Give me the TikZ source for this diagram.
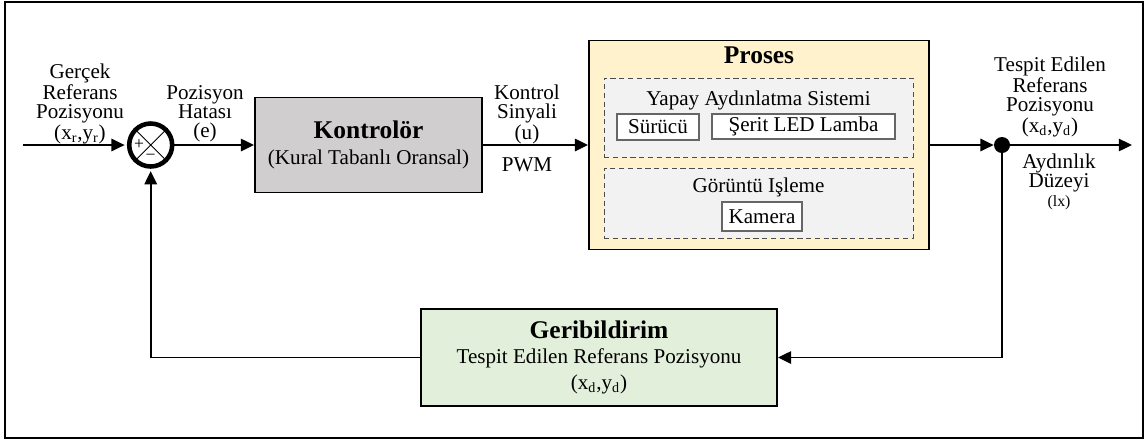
\documentclass[tikz,border=0pt]{standalone}
\usepackage{fontspec}
\setmainfont{Liberation Serif}
\usetikzlibrary{positioning,arrows.meta}

\definecolor{ctrlGray}{RGB}{208,206,206}
\definecolor{plantGold}{RGB}{255,242,204}
\definecolor{subGray}{RGB}{242,242,242}
\definecolor{fbGreen}{RGB}{226,239,218}

\begin{document}
\begin{tikzpicture}[x=0.02cm, y=-0.02cm, font=\fontsize{12}{10.8}\selectfont]
\tikzset{
    lbl/.style={align=center, inner sep=0pt},
    ttl/.style={font=\fontsize{14.5}{15}\selectfont\bfseries, inner sep=0pt},
    ctrlBox/.style={rectangle, draw=black, line width=1.1pt, fill=ctrlGray, align=center, minimum width=4.54cm, minimum height=1.9cm},
    plantBox/.style={rectangle, draw=black, line width=1.1pt, fill=plantGold, minimum width=6.8cm, minimum height=4.18cm},
    subBox/.style={rectangle, densely dashed, draw=black!70, line width=0.5pt, fill=subGray, minimum width=6.18cm},
    part/.style={rectangle, draw=black!60, line width=0.6pt, fill=white, inner sep=0pt},
    fbBox/.style={rectangle, draw=black, line width=1.1pt, fill=fbGreen, align=center, minimum width=7.12cm, minimum height=1.94cm},
    sumNode/.style={circle, draw=black, line width=2.6pt, minimum size=0.86cm, inner sep=0pt},
    dotNode/.style={circle, fill=black, minimum size=0.32cm, inner sep=0pt},
    arr/.style={line width=1.1pt, -{Triangle[length=7.5pt, width=7pt]}}
}
\useasboundingbox (0,0) rectangle (1146,441);
\draw[line width=1.1pt] (5,2) rectangle (1143,438);

% nodes
\coordinate (in) at (23,145);
\node[sumNode] (sum) at (150.7,145) {};
\node[ctrlBox] (ctrl) at (368.5,145) {{\fontsize{14.5}{15}\selectfont\bfseries Kontrolör}\\[4pt](Kural Tabanlı Oransal)};
\node[plantBox] (plant) at (759,145) {};
\node[ttl, below=0.13cm of plant.north] (plantT) {Proses};
\node[subBox, minimum height=1.58cm] (light) at (758.5,117.5) {};
\node[lbl, below=0.25cm of light.north] (lightT) {Yapay Aydınlatma Sistemi};
\node[part, minimum width=1.64cm, minimum height=0.52cm] (driver) at (658,127) {Sürücü};
\node[part, minimum width=3.66cm, minimum height=0.5cm] (led) at (803.5,126.5) {Şerit LED Lamba};
\node[subBox, minimum height=1.4cm] (vision) at (758.5,203) {};
\node[lbl, below=0.19cm of vision.north] (visionT) {Görüntü Işleme};
\node[part, minimum width=1.6cm, minimum height=0.58cm] (cam) at (762,216.5) {Kamera};
\node[dotNode] (dot) at (1002,145) {};
\coordinate (out) at (1132,145);
\node[fbBox] (fb) at (599,357.5) {{\fontsize{14.5}{15}\selectfont\bfseries Geribildirim}\\[3pt]Tespit Edilen Referans Pozisyonu\\[3pt](x\textsubscript{d},y\textsubscript{d})};

% labels
\node[lbl] (refL) at (80,104) {Gerçek\\Referans\\Pozisyonu\\(x\textsubscript{r},y\textsubscript{r})};
\node[lbl] (errL) at (205,114) {Pozisyon\\Hatası\\(e)};
\node[lbl] (uL) at (527,114) {Kontrol\\Sinyali\\(u)};
\node[lbl] (pwmL) at (527,165) {PWM};
\node[lbl] (measL) at (1050,97) {Tespit Edilen\\Referans\\Pozisyonu\\(x\textsubscript{d},y\textsubscript{d})};
\node[lbl] (luxL) at (1059,182) {Aydınlık\\Düzeyi\\{\fontsize{9}{9}\selectfont(lx)}};

% summing junction
\draw[line width=0.5pt] (sum.north west) -- (sum.south east) (sum.north east) -- (sum.south west);
\node[lbl, font=\fontsize{10}{10}\selectfont] (plus) at ([xshift=-6.6pt]sum.center) {+};
\node[lbl, font=\fontsize{10}{10}\selectfont] (minus) at ([yshift=-6.8pt]sum.center) {−};

% arrows
\draw[arr, shorten >=1.3pt] (in) -- (sum.west);
\draw[arr] (sum.east) -- (ctrl.west);
\draw[arr] (ctrl.east) -- (plant.west);
\draw[arr] (plant.east) -- (dot.west);
\draw[arr] (dot) -- (out);
\draw[arr] (dot) |- (fb.east);
\draw[arr, shorten >=1.3pt] (fb.west) -| (sum.south);

\end{tikzpicture}
\end{document}
